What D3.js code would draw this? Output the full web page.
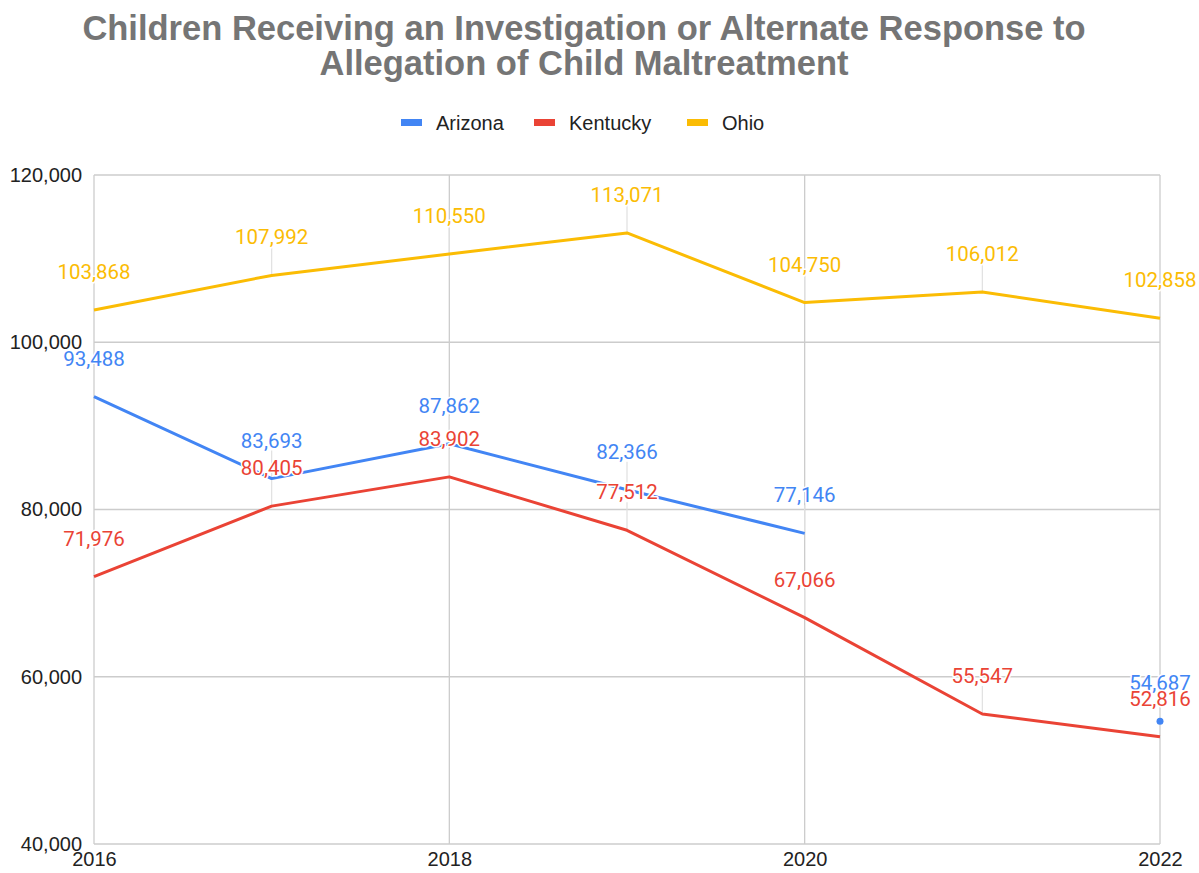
<!DOCTYPE html>
<html><head><meta charset="utf-8">
<script src="https://cdn.jsdelivr.net/npm/d3@7"></script>
<style>body{margin:0;background:#fff}svg{display:block}</style>
</head><body>
<svg id="c" width="1199" height="873"></svg>
<script>
const years = [2016, 2017, 2018, 2019, 2020, 2021, 2022];
const arizona = [93488, 83693, 87862, 82366, 77146, null, 54687];
const kentucky = [71976, 80405, 83902, 77512, 67066, 55547, 52816];
const ohio = [103868, 107992, 110550, 113071, 104750, 106012, 102858];
const seriesNames = ["Arizona", "Kentucky", "Ohio"];
const seriesColors = ["#4285F4", "#EA4335", "#FBBC04"];
const yTicks = [40000, 60000, 80000, 100000, 120000];
const xTicks = [2016, 2018, 2020, 2022];
const titleLines = ["Children Receiving an Investigation or Alternate Response to", "Allegation of Child Maltreatment"];

const series = [arizona, kentucky, ohio].map((vals, i) => ({
  name: seriesNames[i], color: seriesColors[i],
  pts: years.map((y, j) => ({x: y, v: vals[j]}))
}));

const svg = d3.select("#c");
const L = 94, R = 1160, T = 175, B = 844;
const x = d3.scaleLinear().domain([2016, 2022]).range([L, R]);
const y = d3.scaleLinear().domain([40000, 120000]).range([B, T]);
const fmt = d3.format(",");
const AR = "'Liberation Sans', Arial, sans-serif";

// title
svg.append("g").selectAll("text").data(titleLines).join("text")
  .attr("x", 584).attr("y", (d, i) => 40 + i * 35)
  .attr("text-anchor", "middle")
  .attr("font-family", AR).attr("font-weight", "bold")
  .attr("font-size", 34.5).attr("fill", "#757575").text(d => d);

// legend
const leg = svg.append("g");
const legX = [401, 534, 687];
series.forEach((s, i) => {
  leg.append("rect").attr("x", legX[i]).attr("y", 119).attr("width", 21).attr("height", 7).attr("fill", s.color);
  leg.append("text").attr("x", legX[i] + 35).attr("y", 130).attr("font-family", AR)
    .attr("font-size", 20).attr("fill", "#222").text(s.name);
});

// grid
const grid = svg.append("g");
grid.selectAll("line.h").data(yTicks).join("line").attr("class", "h")
  .attr("x1", L).attr("x2", R).attr("y1", d => y(d)).attr("y2", d => y(d))
  .attr("stroke", "#cccccc").attr("stroke-width", 1.3);
grid.selectAll("line.v").data(xTicks).join("line").attr("class", "v")
  .attr("y1", T).attr("y2", B).attr("x1", d => x(d)).attr("x2", d => x(d))
  .attr("stroke", "#cccccc").attr("stroke-width", 1.3);

// axes
const yAxis = d3.axisLeft(y).tickValues(yTicks).tickFormat(fmt).tickSize(0).tickPadding(12);
const ya = svg.append("g").attr("transform", `translate(${L},0)`).call(yAxis);
ya.select(".domain").remove();
ya.selectAll("text").attr("font-family", AR).attr("font-size", 20).attr("fill", "#222");

const xAxis = d3.axisBottom(x).tickValues(xTicks).tickFormat(d3.format("d")).tickSize(0).tickPadding(8);
const xa = svg.append("g").attr("transform", `translate(0,${B})`).call(xAxis);
xa.select(".domain").remove();
xa.selectAll("text").attr("font-family", AR).attr("font-size", 20).attr("fill", "#222");

// leader lines
const leaders = svg.append("g");
series.forEach(s => {
  leaders.selectAll(null).data(s.pts.filter(p => p.v != null)).join("line")
    .attr("x1", p => x(p.x)).attr("x2", p => x(p.x))
    .attr("y1", p => y(p.v)).attr("y2", p => y(p.v) - 28)
    .attr("stroke", "#e0e0e0").attr("stroke-width", 1.2);
});

// lines
const line = d3.line().defined(p => p.v != null).x(p => x(p.x)).y(p => y(p.v));
series.forEach(s => {
  svg.append("path").datum(s.pts).attr("d", line).attr("fill", "none")
    .attr("stroke", s.color).attr("stroke-width", 3).attr("stroke-linejoin", "round");
  const iso = s.pts.filter((p, j) => p.v != null && (j === 0 || s.pts[j-1].v == null) && (j === s.pts.length - 1 || s.pts[j+1].v == null));
  svg.selectAll(null).data(iso).join("circle").attr("cx", p => x(p.x)).attr("cy", p => y(p.v))
    .attr("r", 3.5).attr("fill", s.color);
});

// labels
series.forEach(s => {
  svg.append("g").selectAll("text").data(s.pts.filter(p => p.v != null)).join("text")
    .attr("x", p => x(p.x)).attr("y", p => y(p.v) - 31)
    .attr("text-anchor", "middle").attr("font-family", "Roboto, sans-serif").attr("font-size", 20.5)
    .attr("fill", s.color).attr("stroke", "#fff").attr("stroke-width", 3).attr("paint-order", "stroke")
    .attr("stroke-linejoin", "round").text(p => fmt(p.v));
});
</script>
</body></html>
